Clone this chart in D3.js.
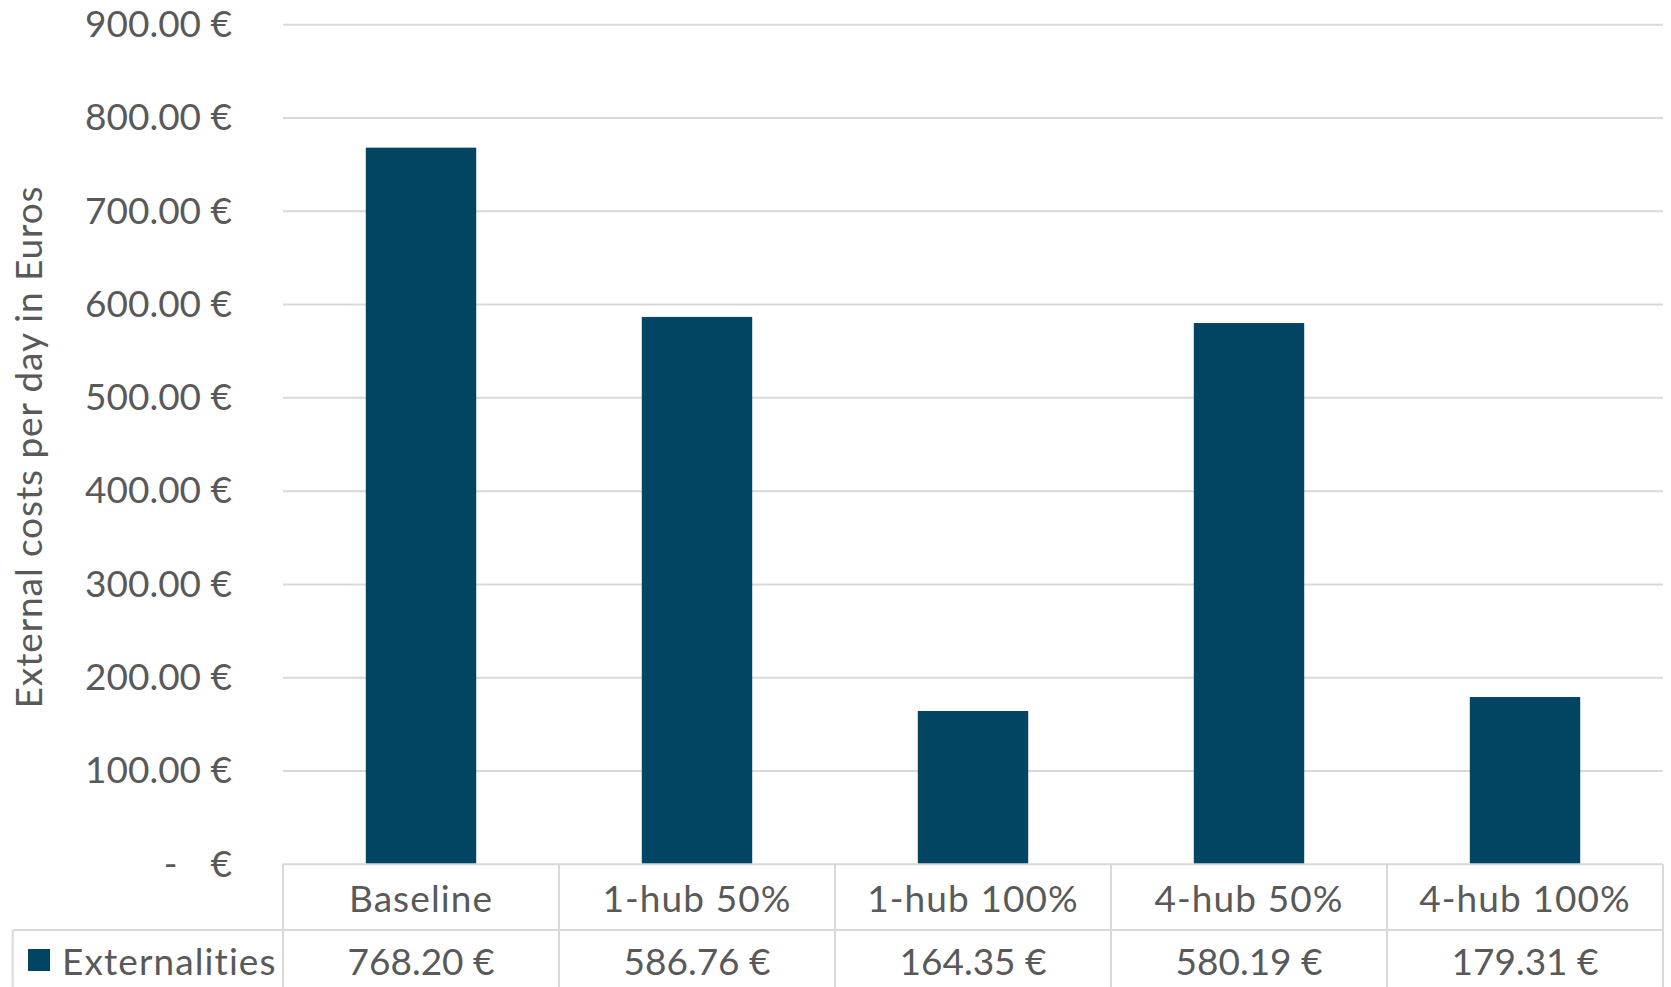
<!DOCTYPE html>
<html>
<head>
<meta charset="utf-8">
<script src="https://cdn.jsdelivr.net/npm/d3@7"></script>
<style>
  html, body { margin: 0; padding: 0; background: #ffffff; }
  svg { display: block; }
  text { font-family: Lato, "Open Sans", sans-serif; fill: #595959; white-space: pre; }
</style>
</head>
<body>
<svg id="chart" width="1671" height="987"></svg>
<script>
// Scenario names and daily external costs (EUR)
const categories = ["Baseline", "1-hub 50%", "1-hub 100%", "4-hub 50%", "4-hub 100%"];
const seriesName = "Externalities";
const values = [768.20, 586.76, 164.35, 580.19, 179.31];
const yTickValues = [0, 100, 200, 300, 400, 500, 600, 700, 800, 900];
const yTitle = "External costs per day in Euros";

const W = 1671, H = 987;
const plot = { left: 283, right: 1663, top: 24.7, bottom: 864.3 };
const tableLeft = 12.7;
const headerBottom = 930;
const fontSize = 37;
const wordSpacing = 1.1;   // letter-spacing for word labels
const barColor = "#014563";
const gridColor = "#d9d9d9";

const svg = d3.select("#chart");

const x = d3.scaleBand()
  .domain(categories)
  .range([plot.left, plot.right])
  .paddingInner(0.6)
  .paddingOuter(0.3);

const y = d3.scaleLinear()
  .domain([0, 900])
  .range([plot.bottom, plot.top]);

const fmt = d3.format(",.2f");
const money = v => v === 0 ? "-   \u2009€" : fmt(v) + " €";

// horizontal gridlines
svg.append("g")
  .selectAll("line")
  .data(yTickValues.filter(d => d > 0))
  .join("line")
  .attr("x1", plot.left).attr("x2", plot.right)
  .attr("y1", d => y(d)).attr("y2", d => y(d))
  .attr("stroke", gridColor).attr("stroke-width", 2);

// y axis labels
const yAxis = d3.axisLeft(y)
  .tickValues(yTickValues)
  .tickSize(0)
  .tickPadding(0)
  .tickFormat(money);

svg.append("g")
  .attr("transform", `translate(${232},0)`)
  .call(yAxis)
  .call(g => g.select(".domain").remove())
  .call(g => g.selectAll("text")
    .attr("font-size", fontSize)
    .attr("font-family", "Lato, 'Open Sans', sans-serif")
    .attr("fill", "#595959"));

// y axis title
svg.append("text")
  .attr("transform", `translate(27,${447}) rotate(-90)`)
  .attr("text-anchor", "middle")
  .attr("dominant-baseline", "central")
  .attr("font-size", fontSize)
  .attr("letter-spacing", 0.9)
  .text(yTitle);

// bars
svg.append("g")
  .selectAll("rect")
  .data(values)
  .join("rect")
  .attr("x", (d, i) => x(categories[i]))
  .attr("width", x.bandwidth())
  .attr("y", d => y(d))
  .attr("height", d => y(0) - y(d))
  .attr("fill", barColor);

// data table beneath the plot
const table = svg.append("g").attr("stroke", gridColor).attr("stroke-width", 2);
// top line (category axis)
table.append("line")
  .attr("x1", plot.left).attr("x2", plot.right)
  .attr("y1", y(0)).attr("y2", y(0));
// separator between header row and value row
table.append("line")
  .attr("x1", tableLeft).attr("x2", plot.right)
  .attr("y1", headerBottom).attr("y2", headerBottom);
// left border of the legend cell
table.append("line")
  .attr("x1", tableLeft).attr("x2", tableLeft)
  .attr("y1", headerBottom).attr("y2", H);
// column boundaries
const edges = categories.map(c => x(c) - x.step() * x.paddingOuter()).concat([plot.right]);
table.selectAll("line.col")
  .data(edges)
  .join("line")
  .attr("class", "col")
  .attr("x1", d => d).attr("x2", d => d)
  .attr("y1", y(0)).attr("y2", H);

// category header texts
svg.append("g")
  .selectAll("text")
  .data(categories)
  .join("text")
  .attr("x", d => x(d) + x.bandwidth() / 2)
  .attr("y", (y(0) + headerBottom) / 2)
  .attr("text-anchor", "middle")
  .attr("dominant-baseline", "central")
  .attr("font-size", fontSize)
  .attr("letter-spacing", wordSpacing)
  .text(d => d);

// value row
svg.append("g")
  .selectAll("text")
  .data(values)
  .join("text")
  .attr("x", (d, i) => x(categories[i]) + x.bandwidth() / 2)
  .attr("y", 960)
  .attr("text-anchor", "middle")
  .attr("dominant-baseline", "central")
  .attr("font-size", fontSize)
  .text(d => money(d));

// legend key in the value row
svg.append("rect")
  .attr("x", 28).attr("y", 949)
  .attr("width", 22).attr("height", 22)
  .attr("fill", barColor);
svg.append("text")
  .attr("x", 62).attr("y", 960)
  .attr("dominant-baseline", "central")
  .attr("font-size", fontSize)
  .attr("letter-spacing", wordSpacing)
  .text(seriesName);
</script>
</body>
</html>
